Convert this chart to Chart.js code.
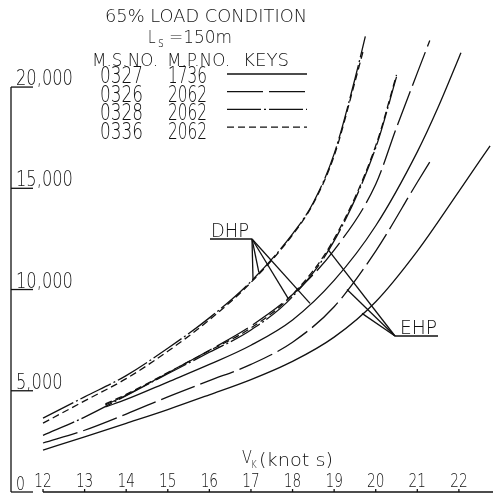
<!DOCTYPE html>
<html>
<head>
<meta charset="utf-8">
<script src="https://cdn.jsdelivr.net/npm/chart.js@4.4.1/dist/chart.umd.min.js"></script>
<style>
  html, body { margin: 0; padding: 0; background: #fff; }
  canvas { display: block; }
</style>
</head>
<body>
<canvas id="powerChart" width="493" height="497"></canvas>
<script>
// speed in knots, power in HP
const dhp0327Speed = [13.5, 14, 15, 16, 17, 18, 19, 20, 21, 21.5, 22, 22.05];
const dhp0327Hp = [4200, 4570, 5430, 6300, 7250, 8500, 10450, 13150, 16800, 19000, 21450, 21700];
const dhp0326Speed = [13.5, 14, 15, 16, 17, 18, 19, 20, 20.5, 21, 21.3];
const dhp0326Hp = [4300, 4780, 5880, 7000, 8200, 9750, 11950, 15200, 18000, 20700, 22300];
const dhp0328Speed = [12, 13, 14, 15, 16, 17, 18, 18.5, 19, 19.5, 19.75];
const dhp0328Hp = [3650, 4700, 5750, 7100, 8600, 10400, 12750, 14300, 16700, 20400, 22500];
const dhp0336Speed = [12, 13, 14, 15, 16, 17, 18, 18.5, 19, 19.5, 19.7];
const dhp0336Hp = [3400, 4500, 5600, 6950, 8500, 10350, 12700, 14250, 16600, 20250, 21800];

const ehp0327Speed = [12, 13, 14, 15, 16, 17, 18, 19, 20, 21, 22, 22.75];
const ehp0327Hp = [2070, 2720, 3390, 4070, 4800, 5550, 6450, 7650, 9400, 11900, 14850, 17100];
const ehp0326Speed = [12, 13, 14, 15, 16, 17, 18, 19, 20, 21, 21.33];
const ehp0326Hp = [2420, 3050, 3850, 4700, 5500, 6300, 7400, 9150, 11900, 15300, 16400];
const ehp0328Speed = [12, 13, 14, 15, 16, 17, 18, 19, 20, 20.5];
const ehp0328Hp = [2800, 3700, 4760, 5840, 6900, 8000, 9650, 12400, 17000, 20500];
const ehp0336Speed = [13.5, 14, 15, 16, 17, 18, 19, 20, 20.5];
const ehp0336Hp = [4350, 4820, 5900, 6980, 8100, 9750, 12500, 17100, 20600];

const msNumbers = ['0327', '0326', '0328', '0336'];
const mpNumbers = ['1736', '2062', '2062', '2062'];
const speedTicks = [12, 13, 14, 15, 16, 17, 18, 19, 20, 21, 22];
const powerTicks = [0, 5000, 10000, 15000, 20000];

// leader lines: [series index, speed where the pointer touches]
const dhpPointers = [[3, 17.05], [2, 17.19], [1, 17.89], [0, 18.42]];
const ehpPointers = [[6, 18.85], [5, 19.31], [4, 19.67]];

const FONT = '200 {size}px "DejaVu Sans", "DejaVu Sans Condensed", sans-serif';
const INK = '#111';
const keyDash = [[], [36, 6], [34, 3, 2, 3], [7, 4]];

function points(speed, hp) {
    return speed.map((s, i) => ({ x: s, y: hp[i] }));
}

const series = [
    points(dhp0327Speed, dhp0327Hp),
    points(dhp0326Speed, dhp0326Hp),
    points(dhp0328Speed, dhp0328Hp),
    points(dhp0336Speed, dhp0336Hp),
    points(ehp0327Speed, ehp0327Hp),
    points(ehp0326Speed, ehp0326Hp),
    points(ehp0328Speed, ehp0328Hp),
    points(ehp0336Speed, ehp0336Hp)
];
const seriesLabels = ['DHP 0327', 'DHP 0326', 'DHP 0328', 'DHP 0336', 'EHP 0327', 'EHP 0326', 'EHP 0328', 'EHP 0336'];

function hpAt(data, speed) {
    for (let i = 1; i < data.length; i++) {
        if (speed <= data[i].x) {
            const a = data[i - 1], b = data[i];
            return a.y + (b.y - a.y) * (speed - a.x) / (b.x - a.x);
        }
    }
    return data[data.length - 1].y;
}

// draw text; width > 0 fits it to that many px, width < 0 is a squeeze factor
function text(ctx, str, x, y, size, width, align) {
    ctx.save();
    ctx.font = FONT.replace('{size}', size);
    const w = ctx.measureText(str).width;
    const sx = width > 0 ? width / w : (width < 0 ? -width : 1);
    const drawn = w * sx;
    const left = align === 'center' ? x - drawn / 2 : x;
    ctx.translate(left, y);
    ctx.scale(sx, 1);
    ctx.fillText(str, 0, 0);
    ctx.restore();
}

function line(ctx, x1, y1, x2, y2, dash) {
    ctx.save();
    ctx.setLineDash(dash || []);
    ctx.beginPath();
    ctx.moveTo(x1, y1);
    ctx.lineTo(x2, y2);
    ctx.stroke();
    ctx.restore();
}

const drawingSheet = {
    id: 'drawingSheet',
    afterDatasetsDraw(chart) {
        const ctx = chart.ctx;
        const xs = chart.scales.x;
        const ys = chart.scales.y;
        const area = chart.chartArea;
        const x0 = area.left;
        const yBase = ys.getPixelForValue(0);

        ctx.save();
        ctx.strokeStyle = INK;
        ctx.fillStyle = INK;
        ctx.lineWidth = 1.3;

        // power axis with underlined labels
        line(ctx, x0, ys.getPixelForValue(powerTicks[powerTicks.length - 1]), x0, yBase);
        powerTicks.forEach(v => {
            const y = ys.getPixelForValue(v);
            line(ctx, x0, y, x0 + 22, y);
            text(ctx, v.toLocaleString('en-US'), x0 + 5, y - 2, v === 0 ? 19 : 22, -0.74);
        });

        // speed axis, starts at 12 knots
        line(ctx, xs.getPixelForValue(speedTicks[0]), yBase, area.right, yBase);
        speedTicks.forEach(v => {
            const x = xs.getPixelForValue(v);
            line(ctx, x, yBase, x, yBase - 3);
            text(ctx, String(v), x, yBase - 5, 19, -0.72, 'center');
        });
        text(ctx, 'V', 242, 463, 18, -0.8);
        text(ctx, 'K', 251, 468, 11, -0.8);
        text(ctx, '(knot s)', 259, 466, 18, 74);

        // title block
        text(ctx, '65% LOAD CONDITION', 105, 22, 18, 202);
        text(ctx, 'L', 148, 43, 17, -0.8);
        text(ctx, 's', 158, 47, 14, -0.8);
        text(ctx, '=150m', 169, 43, 17, 63);
        text(ctx, 'M.S.NO.', 92, 66, 18, 66);
        text(ctx, 'M.P.NO.', 167, 66, 18, 63);
        text(ctx, 'KEYS', 243, 66, 18, 46);
        msNumbers.forEach((ms, i) => {
            const base = 83 + i * 18.5;
            text(ctx, ms, 100, base, 23, 43);
            text(ctx, mpNumbers[i], 168, base, 23, 39);
            line(ctx, 227, 74 + i * 17.7, 307, 74 + i * 17.7, keyDash[i]);
        });

        // DHP / EHP call-outs
        text(ctx, 'DHP', 211, 237, 20, 38);
        line(ctx, 210, 239, 252, 239);
        dhpPointers.forEach(([s, v]) => {
            line(ctx, 252, 239, xs.getPixelForValue(v), ys.getPixelForValue(hpAt(series[s], v)));
        });
        text(ctx, 'EHP', 400, 334, 20, 37);
        line(ctx, 395, 336, 438, 336);
        ehpPointers.forEach(([s, v]) => {
            line(ctx, 395, 336, xs.getPixelForValue(v), ys.getPixelForValue(hpAt(series[s], v)));
        });

        ctx.restore();
    }
};

new Chart(document.getElementById('powerChart'), {
    type: 'line',
    data: {
        datasets: series.map((data, i) => ({
            label: seriesLabels[i],
            data: data,
            borderColor: INK,
            borderWidth: 1.3,
            borderDash: keyDash[i % 4],
            pointRadius: 0,
            fill: false,
            cubicInterpolationMode: 'monotone'
        }))
    },
    options: {
        responsive: false,
        animation: false,
        layout: { padding: { left: 11, right: 0, top: 0, bottom: 5 } },
        plugins: {
            legend: { display: false },
            tooltip: { enabled: false }
        },
        scales: {
            x: { type: 'linear', display: false, min: 11.23, max: 22.82 },
            y: { type: 'linear', display: false, min: 0, max: 24300 }
        }
    },
    plugins: [drawingSheet]
});
</script>
</body>
</html>
